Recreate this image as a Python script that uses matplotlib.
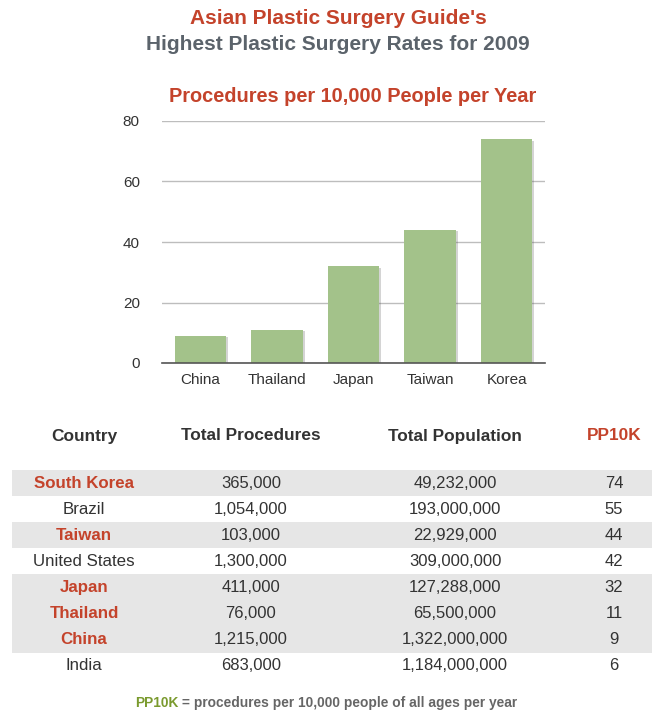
"""Highest plastic surgery rates for 2009: bar chart plus summary table."""

import matplotlib
import matplotlib.pyplot as plt
import matplotlib.patheffects as pe
from matplotlib.patches import Rectangle

matplotlib.rcParams["font.family"] = ["Liberation Sans", "DejaVu Sans"]

RED = "#c4432b"
GRAY_TITLE = "#5b636b"
TEXT = "#333333"
BAR = "#a3c28a"
SHADE = "#e6e6e6"

# chart data
bar_countries = ["China", "Thailand", "Japan", "Taiwan", "Korea"]
bar_values = [9, 11, 32, 44, 74]
y_ticks = [0, 20, 40, 60, 80]

# table data
tbl_headers = ["Country", "Total Procedures", "Total Population", "PP10K"]
tbl_countries = ["South Korea", "Brazil", "Taiwan", "United States",
                 "Japan", "Thailand", "China", "India"]
tbl_procedures = ["365,000", "1,054,000", "103,000", "1,300,000",
                  "411,000", "76,000", "1,215,000", "683,000"]
tbl_population = ["49,232,000", "193,000,000", "22,929,000", "309,000,000",
                  "127,288,000", "65,500,000", "1,322,000,000", "1,184,000,000"]
tbl_pp10k = [74, 55, 44, 42, 32, 11, 9, 6]
tbl_asian = [True, False, True, False, True, True, True, False]

W, H = 652, 712
fig = plt.figure(figsize=(W / 100, H / 100), dpi=100)

# background axes in pixel coordinates for titles and the table
bg = fig.add_axes([0, 0, 1, 1])
bg.set_xlim(0, W)
bg.set_ylim(H, 0)
bg.axis("off")

bg.text(338, 19, "Asian Plastic Surgery Guide's", ha="center", va="center",
        fontsize=15, fontweight="bold", color=RED)
bg.text(338, 44, "Highest Plastic Surgery Rates for 2009", ha="center", va="center",
        fontsize=15, fontweight="bold", color=GRAY_TITLE)
bg.text(353, 96, "Procedures per 10,000 People per Year", ha="center", va="center",
        fontsize=14.4, fontweight="bold", color=RED)

# ── bar chart ──
ax = fig.add_axes([162 / W, 1 - 363 / H, (545 - 162) / W, (363 - 121) / H])
x = range(len(bar_countries))
bars = ax.bar(x, bar_values, width=0.67, color=BAR, zorder=3)
for b in bars:
    b.set_path_effects([pe.SimplePatchShadow(offset=(1.5, -1), shadow_rgbFace="#555555",
                                             alpha=0.25), pe.Normal()])
ax.set_xlim(-0.5, len(bar_countries) - 0.5)
ax.set_ylim(0, 80)
ax.set_yticks(y_ticks)
ax.set_xticks(list(x))
ax.set_xticklabels(bar_countries)
ax.tick_params(axis="both", length=0, labelsize=11, colors=TEXT)
ax.tick_params(axis="y", pad=16)
ax.tick_params(axis="x", pad=7)
ax.grid(axis="y", color="#bdbdbd", linewidth=1, zorder=0)
for s in ["top", "right", "left"]:
    ax.spines[s].set_visible(False)
ax.spines["bottom"].set_color("#555555")
ax.spines["bottom"].set_linewidth(1.2)
ax.spines["bottom"].set_zorder(4)

# ── table ──
col_x = [84, 251, 455, 614]
header_y = 436
for cx, h in zip(col_x, tbl_headers):
    bg.text(cx, header_y, h, ha="center", va="center", fontsize=12.4,
            fontweight="bold", color=RED if h == "PP10K" else TEXT)

row_top = 470
row_h = 26.1
for i, name in enumerate(tbl_countries):
    y0 = row_top + i * row_h
    yc = y0 + row_h / 2
    if tbl_asian[i]:
        bg.add_patch(Rectangle((12, y0), W - 12, row_h, color=SHADE, lw=0, zorder=0))
    bg.text(col_x[0], yc, name, ha="center", va="center", fontsize=12.2,
            fontweight="bold" if tbl_asian[i] else "normal",
            color=RED if tbl_asian[i] else TEXT)
    bg.text(col_x[1], yc, tbl_procedures[i], ha="center", va="center", fontsize=12, color=TEXT)
    bg.text(col_x[2], yc, tbl_population[i], ha="center", va="center", fontsize=12, color=TEXT)
    bg.text(col_x[3], yc, str(tbl_pp10k[i]), ha="center", va="center", fontsize=12, color=TEXT)

# footnote
t1 = bg.text(135, 703, "PP10K", ha="left", va="center", fontsize=9.9,
             fontweight="bold", color="#7a9a2e")
bg.annotate(" = procedures per 10,000 people of all ages per year", xy=(1, 0.5),
            xycoords=t1, ha="left", va="center", fontsize=9.9,
            fontweight="bold", color="#666666")

fig.savefig("out.png", dpi=100)
